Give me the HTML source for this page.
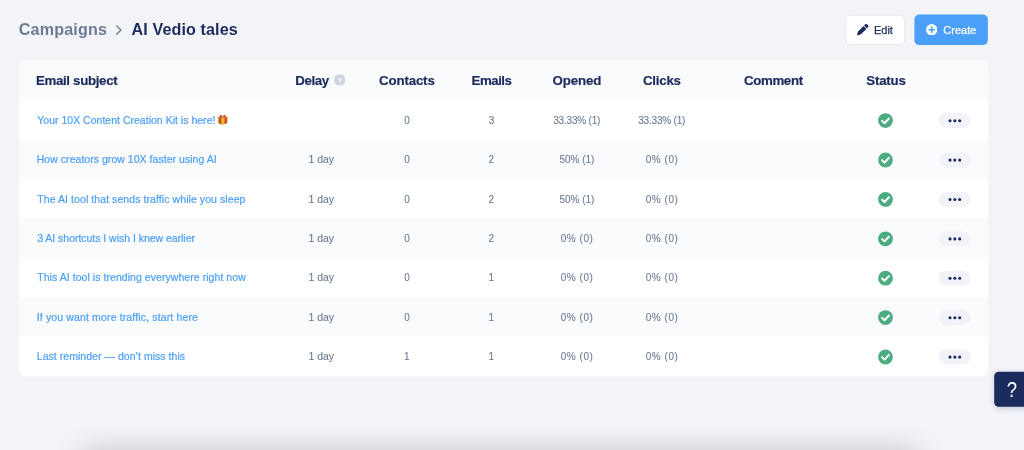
<!DOCTYPE html>
<html lang="en">
<head>
<meta charset="utf-8">
<title>Campaigns - AI Vedio tales</title>
<style>
*{box-sizing:border-box;margin:0;padding:0}
html,body{width:1024px;height:450px;overflow:hidden;background:#f2f4f8;font-family:"Liberation Sans",Arial,sans-serif}
body{position:relative}
.t{position:absolute;white-space:nowrap;line-height:normal;display:block}
.ck{position:absolute;display:block}
.shadow{position:absolute;left:82px;top:451px;width:836px;height:60px;border-radius:8px;box-shadow:0 0 30px 0 rgba(0,0,0,.20)}
</style>
</head>
<body>

<svg class="ck" style="left:0;top:0" width="1024" height="450" viewBox="0 0 1024 450"><defs><clipPath id="cc"><rect x="19" y="59.8" width="969.2" height="316.7" rx="7" ry="7"/></clipPath><filter id="hs" x="-30%" y="-30%" width="160%" height="170%"><feGaussianBlur stdDeviation="3"/></filter></defs><g clip-path="url(#cc)"><rect x="19" y="59.8" width="970" height="317" fill="#ffffff"/><rect x="19" y="59.8" width="970" height="40.8" fill="#fafbfc"/><rect x="19" y="140.0" width="970" height="39.4" fill="#fafbfd"/><rect x="19" y="218.8" width="970" height="39.4" fill="#fafbfd"/><rect x="19" y="297.6" width="970" height="39.4" fill="#fafbfd"/></g><rect x="845.9" y="15.100" width="58.8" height="29.500" rx="5" fill="#ffffff" stroke="#e4e7ee" stroke-width="1"/><rect x="914.4" y="14.600" width="73.5" height="30.500" rx="5" fill="#4a9ff8"/><rect x="939.1" y="113.1" width="31" height="14.900" rx="6.500" fill="#f1f3f8"/><g transform="translate(878.00 113.10)"><circle cx="7.5" cy="7.5" r="7.4" fill="#4cac80"/><path d="M4.1 7.800 L6.500 10.100 L10.900 5.400" fill="none" stroke="#fff" stroke-width="2" stroke-linecap="round" stroke-linejoin="round"/></g><circle cx="950.0" cy="120.7" r="1.550" fill="#1c2b5e"/><circle cx="954.85" cy="120.7" r="1.550" fill="#1c2b5e"/><circle cx="959.7" cy="120.7" r="1.550" fill="#1c2b5e"/><rect x="939.1" y="152.5" width="31" height="14.900" rx="6.500" fill="#f1f3f8"/><g transform="translate(878.00 152.50)"><circle cx="7.5" cy="7.5" r="7.4" fill="#4cac80"/><path d="M4.1 7.800 L6.500 10.100 L10.900 5.400" fill="none" stroke="#fff" stroke-width="2" stroke-linecap="round" stroke-linejoin="round"/></g><circle cx="950.0" cy="160.1" r="1.550" fill="#1c2b5e"/><circle cx="954.85" cy="160.1" r="1.550" fill="#1c2b5e"/><circle cx="959.7" cy="160.1" r="1.550" fill="#1c2b5e"/><rect x="939.1" y="191.9" width="31" height="14.900" rx="6.500" fill="#f1f3f8"/><g transform="translate(878.00 191.90)"><circle cx="7.5" cy="7.5" r="7.4" fill="#4cac80"/><path d="M4.1 7.800 L6.500 10.100 L10.900 5.400" fill="none" stroke="#fff" stroke-width="2" stroke-linecap="round" stroke-linejoin="round"/></g><circle cx="950.0" cy="199.5" r="1.550" fill="#1c2b5e"/><circle cx="954.85" cy="199.5" r="1.550" fill="#1c2b5e"/><circle cx="959.7" cy="199.5" r="1.550" fill="#1c2b5e"/><rect x="939.1" y="231.3" width="31" height="14.900" rx="6.500" fill="#f1f3f8"/><g transform="translate(878.00 231.30)"><circle cx="7.5" cy="7.5" r="7.4" fill="#4cac80"/><path d="M4.1 7.800 L6.500 10.100 L10.900 5.400" fill="none" stroke="#fff" stroke-width="2" stroke-linecap="round" stroke-linejoin="round"/></g><circle cx="950.0" cy="238.9" r="1.550" fill="#1c2b5e"/><circle cx="954.85" cy="238.9" r="1.550" fill="#1c2b5e"/><circle cx="959.7" cy="238.9" r="1.550" fill="#1c2b5e"/><rect x="939.1" y="270.7" width="31" height="14.900" rx="6.500" fill="#f1f3f8"/><g transform="translate(878.00 270.70)"><circle cx="7.5" cy="7.5" r="7.4" fill="#4cac80"/><path d="M4.1 7.800 L6.500 10.100 L10.900 5.400" fill="none" stroke="#fff" stroke-width="2" stroke-linecap="round" stroke-linejoin="round"/></g><circle cx="950.0" cy="278.3" r="1.550" fill="#1c2b5e"/><circle cx="954.85" cy="278.3" r="1.550" fill="#1c2b5e"/><circle cx="959.7" cy="278.3" r="1.550" fill="#1c2b5e"/><rect x="939.1" y="310.1" width="31" height="14.900" rx="6.500" fill="#f1f3f8"/><g transform="translate(878.00 310.10)"><circle cx="7.5" cy="7.5" r="7.4" fill="#4cac80"/><path d="M4.1 7.800 L6.500 10.100 L10.900 5.400" fill="none" stroke="#fff" stroke-width="2" stroke-linecap="round" stroke-linejoin="round"/></g><circle cx="950.0" cy="317.7" r="1.550" fill="#1c2b5e"/><circle cx="954.85" cy="317.7" r="1.550" fill="#1c2b5e"/><circle cx="959.7" cy="317.7" r="1.550" fill="#1c2b5e"/><rect x="939.1" y="349.5" width="31" height="14.900" rx="6.500" fill="#f1f3f8"/><g transform="translate(878.00 349.50)"><circle cx="7.5" cy="7.5" r="7.4" fill="#4cac80"/><path d="M4.1 7.800 L6.500 10.100 L10.900 5.400" fill="none" stroke="#fff" stroke-width="2" stroke-linecap="round" stroke-linejoin="round"/></g><circle cx="950.0" cy="357.1" r="1.550" fill="#1c2b5e"/><circle cx="954.85" cy="357.1" r="1.550" fill="#1c2b5e"/><circle cx="959.7" cy="357.1" r="1.550" fill="#1c2b5e"/><rect x="995" y="374" width="40" height="34" rx="4" fill="#1c2b5e" opacity="0.250" filter="url(#hs)"/><rect x="994.2" y="371.8" width="40" height="35" rx="4.5" fill="#1c2b5e"/><g transform="translate(333.95 74.2)"><circle cx="5.7" cy="5.7" r="5.7" fill="#cdd5e1"/><text x="5.7" y="8.5" font-size="7.8" font-weight="bold" text-anchor="middle" fill="#fff" font-family="Liberation Sans, sans-serif">?</text></g><path d="M116.6 25.9 L121.0 30.05 L116.6 34.2" fill="none" stroke="#6b7c93" stroke-width="1.3" stroke-linecap="round" stroke-linejoin="round"/></svg>
<span class="t" id="bc1" style="left:18.75px;top:20.00px;font-size:16.1px;color:#6b7c93;letter-spacing:0.181px;font-weight:bold">Campaigns</span>
<span class="t" id="bc2" style="left:131.55px;top:20.00px;font-size:16.1px;color:#1c2b5e;letter-spacing:0.115px;font-weight:bold">AI Vedio tales</span>
<svg class="ck" style="left:857.200px;top:24.300px" width="11.400" height="11.400" viewBox="0 0 512 512"><path fill="#1c2b5e" d="M362.700 19.300L314.300 67.700 444.300 197.700l48.400-48.400c25-25 25-65.500 0-90.500L453.300 19.300c-25-25-65.500-25-90.500 0zm-71 71L58.600 323.500c-10.400 10.400-18 23.300-22.200 37.400L1 481.200C-1.500 489.700 .8 498.800 7 505s15.300 8.500 23.700 6.100l120.300-35.400c14.100-4.200 27-11.800 37.400-22.200L421.700 220.300 291.700 90.300z"/></svg>
<span class="t" id="bedit" style="left:874.10px;top:24.00px;font-size:11px;color:#1c2b5e;letter-spacing:-0.083px;-webkit-text-stroke:0.25px #1c2b5e">Edit</span>
<svg class="ck" style="left:926px;top:24px" width="11.400" height="11.400" viewBox="0 0 12 12"><circle cx="6" cy="6" r="6" fill="#fff"/><path d="M6 3.300V8.700M3.300 6H8.700" stroke="#4a9ff8" stroke-width="1.700" stroke-linecap="round"/></svg>
<span class="t" id="bcreate" style="left:943.35px;top:24.00px;font-size:11px;color:#ffffff;letter-spacing:0.010px;-webkit-text-stroke:0.25px #ffffff">Create</span>
<span class="t" id="h0" style="left:35.90px;top:73.00px;font-size:13.3px;color:#1c2b5e;letter-spacing:-0.329px;font-weight:bold;-webkit-text-stroke:0.18px #1c2b5e">Email subject</span>
<span class="t" id="h1" style="left:295.25px;top:73.00px;font-size:13.3px;color:#1c2b5e;letter-spacing:-0.400px;font-weight:bold;-webkit-text-stroke:0.18px #1c2b5e">Delay</span>
<span class="t" id="h2" style="left:379.00px;top:73.00px;font-size:13.3px;color:#1c2b5e;letter-spacing:-0.157px;font-weight:bold;-webkit-text-stroke:0.18px #1c2b5e">Contacts</span>
<span class="t" id="h3" style="left:471.60px;top:73.00px;font-size:13.3px;color:#1c2b5e;letter-spacing:-0.510px;font-weight:bold;-webkit-text-stroke:0.18px #1c2b5e">Emails</span>
<span class="t" id="h4" style="left:552.50px;top:73.00px;font-size:13.3px;color:#1c2b5e;letter-spacing:-0.150px;font-weight:bold;-webkit-text-stroke:0.18px #1c2b5e">Opened</span>
<span class="t" id="h5" style="left:643.00px;top:73.00px;font-size:13.3px;color:#1c2b5e;letter-spacing:-0.250px;font-weight:bold;-webkit-text-stroke:0.18px #1c2b5e">Clicks</span>
<span class="t" id="h6" style="left:744.00px;top:73.00px;font-size:13.3px;color:#1c2b5e;letter-spacing:-0.375px;font-weight:bold;-webkit-text-stroke:0.18px #1c2b5e">Comment</span>
<span class="t" id="h7" style="left:866.25px;top:73.00px;font-size:13.3px;color:#1c2b5e;letter-spacing:-0.200px;font-weight:bold;-webkit-text-stroke:0.18px #1c2b5e">Status</span>
<span class="t" id="r0s" style="left:37.25px;top:114.00px;font-size:10.5px;color:#4a9ff5;letter-spacing:0.014px;-webkit-text-stroke:0.2px #4a9ff5">Your 10X Content Creation Kit is here!</span>
<svg class="ck" style="left:217px;top:114px" width="12" height="12" viewBox="0 0 12 12"><g transform="translate(0.5 0.1)"><path d="M0.4 3 L10 3 L10 8.8 L5.2 10.7 L0.4 8.8 Z" fill="#d8a42c"/><path d="M1.6 3 L4 3 L4 10.2 L1.6 9.3 Z" fill="#d3402b"/><path d="M6.9 3 L9.1 3 L9.1 9.2 L6.9 10 Z" fill="#c93a27"/><path d="M4 4.2 L6.9 4.2 L6.9 10 L5.2 10.7 L4 10.2 Z" fill="#ecbd34"/><rect x="0" y="2.7" width="10.4" height="1.6" rx="0.3" fill="#dcaa30"/><rect x="1.6" y="2.7" width="2.4" height="1.6" fill="#d8452e"/><rect x="6.9" y="2.7" width="2.2" height="1.6" fill="#d8452e"/><path d="M5.2 3.1 C4.2 -0.300 1.500 0.300 2.500 2.900 Z M5.200 3.100 C6.200 -0.300 8.900 0.300 7.900 2.900 Z" fill="#e24b3b"/></g></svg>
<span class="t" id="r0c" style="left:404.23px;top:115.00px;font-size:10px;color:#6b7c93;letter-spacing:0.000px;-webkit-text-stroke:0.1px #6b7c93">0</span>
<span class="t" id="r0e" style="left:488.73px;top:115.00px;font-size:10px;color:#6b7c93;letter-spacing:0.000px;-webkit-text-stroke:0.1px #6b7c93">3</span>
<span class="t" id="r0o" style="left:553.22px;top:115.00px;font-size:10px;color:#6b7c93;letter-spacing:-0.194px;-webkit-text-stroke:0.1px #6b7c93">33.33% (1)</span>
<span class="t" id="r0k" style="left:638.22px;top:115.00px;font-size:10px;color:#6b7c93;letter-spacing:-0.194px;-webkit-text-stroke:0.1px #6b7c93">33.33% (1)</span>
<span class="t" id="r1s" style="left:36.75px;top:153.00px;font-size:10.5px;color:#4a9ff5;letter-spacing:0.036px;-webkit-text-stroke:0.2px #4a9ff5">How creators grow 10X faster using AI</span>
<span class="t" id="r1d" style="left:308.60px;top:153.00px;font-size:10.5px;color:#6b7c93;letter-spacing:-0.050px;-webkit-text-stroke:0.1px #6b7c93">1 day</span>
<span class="t" id="r1c" style="left:404.23px;top:154.00px;font-size:10px;color:#6b7c93;letter-spacing:0.000px;-webkit-text-stroke:0.1px #6b7c93">0</span>
<span class="t" id="r1e" style="left:488.60px;top:154.00px;font-size:10px;color:#6b7c93;letter-spacing:0.000px;-webkit-text-stroke:0.1px #6b7c93">2</span>
<span class="t" id="r1o" style="left:559.40px;top:154.00px;font-size:10px;color:#6b7c93;letter-spacing:-0.008px;-webkit-text-stroke:0.1px #6b7c93">50% (1)</span>
<span class="t" id="r1k" style="left:645.72px;top:154.00px;font-size:10px;color:#6b7c93;letter-spacing:0.550px;-webkit-text-stroke:0.1px #6b7c93">0% (0)</span>
<span class="t" id="r2s" style="left:37.25px;top:193.00px;font-size:10.5px;color:#4a9ff5;letter-spacing:0.078px;-webkit-text-stroke:0.2px #4a9ff5">The AI tool that sends traffic while you sleep</span>
<span class="t" id="r2d" style="left:308.60px;top:193.00px;font-size:10.5px;color:#6b7c93;letter-spacing:-0.050px;-webkit-text-stroke:0.1px #6b7c93">1 day</span>
<span class="t" id="r2c" style="left:404.23px;top:194.00px;font-size:10px;color:#6b7c93;letter-spacing:0.000px;-webkit-text-stroke:0.1px #6b7c93">0</span>
<span class="t" id="r2e" style="left:488.60px;top:194.00px;font-size:10px;color:#6b7c93;letter-spacing:0.000px;-webkit-text-stroke:0.1px #6b7c93">2</span>
<span class="t" id="r2o" style="left:559.40px;top:194.00px;font-size:10px;color:#6b7c93;letter-spacing:-0.008px;-webkit-text-stroke:0.1px #6b7c93">50% (1)</span>
<span class="t" id="r2k" style="left:645.72px;top:194.00px;font-size:10px;color:#6b7c93;letter-spacing:0.550px;-webkit-text-stroke:0.1px #6b7c93">0% (0)</span>
<span class="t" id="r3s" style="left:37.25px;top:232.00px;font-size:10.5px;color:#4a9ff5;letter-spacing:-0.029px;-webkit-text-stroke:0.2px #4a9ff5">3 AI shortcuts I wish I knew earlier</span>
<span class="t" id="r3d" style="left:308.60px;top:232.00px;font-size:10.5px;color:#6b7c93;letter-spacing:-0.050px;-webkit-text-stroke:0.1px #6b7c93">1 day</span>
<span class="t" id="r3c" style="left:404.23px;top:233.00px;font-size:10px;color:#6b7c93;letter-spacing:0.000px;-webkit-text-stroke:0.1px #6b7c93">0</span>
<span class="t" id="r3e" style="left:488.60px;top:233.00px;font-size:10px;color:#6b7c93;letter-spacing:0.000px;-webkit-text-stroke:0.1px #6b7c93">2</span>
<span class="t" id="r3o" style="left:560.72px;top:233.00px;font-size:10px;color:#6b7c93;letter-spacing:0.550px;-webkit-text-stroke:0.1px #6b7c93">0% (0)</span>
<span class="t" id="r3k" style="left:645.72px;top:233.00px;font-size:10px;color:#6b7c93;letter-spacing:0.550px;-webkit-text-stroke:0.1px #6b7c93">0% (0)</span>
<span class="t" id="r4s" style="left:37.25px;top:271.00px;font-size:10.5px;color:#4a9ff5;letter-spacing:0.056px;-webkit-text-stroke:0.2px #4a9ff5">This AI tool is trending everywhere right now</span>
<span class="t" id="r4d" style="left:308.60px;top:271.00px;font-size:10.5px;color:#6b7c93;letter-spacing:-0.050px;-webkit-text-stroke:0.1px #6b7c93">1 day</span>
<span class="t" id="r4c" style="left:404.23px;top:272.00px;font-size:10px;color:#6b7c93;letter-spacing:0.000px;-webkit-text-stroke:0.1px #6b7c93">0</span>
<span class="t" id="r4e" style="left:488.50px;top:272.00px;font-size:10px;color:#6b7c93;letter-spacing:0.000px;-webkit-text-stroke:0.1px #6b7c93">1</span>
<span class="t" id="r4o" style="left:560.72px;top:272.00px;font-size:10px;color:#6b7c93;letter-spacing:0.550px;-webkit-text-stroke:0.1px #6b7c93">0% (0)</span>
<span class="t" id="r4k" style="left:645.72px;top:272.00px;font-size:10px;color:#6b7c93;letter-spacing:0.550px;-webkit-text-stroke:0.1px #6b7c93">0% (0)</span>
<span class="t" id="r5s" style="left:36.75px;top:311.00px;font-size:10.5px;color:#4a9ff5;letter-spacing:0.140px;-webkit-text-stroke:0.2px #4a9ff5">If you want more traffic, start here</span>
<span class="t" id="r5d" style="left:308.60px;top:311.00px;font-size:10.5px;color:#6b7c93;letter-spacing:-0.050px;-webkit-text-stroke:0.1px #6b7c93">1 day</span>
<span class="t" id="r5c" style="left:404.23px;top:312.00px;font-size:10px;color:#6b7c93;letter-spacing:0.000px;-webkit-text-stroke:0.1px #6b7c93">0</span>
<span class="t" id="r5e" style="left:488.50px;top:312.00px;font-size:10px;color:#6b7c93;letter-spacing:0.000px;-webkit-text-stroke:0.1px #6b7c93">1</span>
<span class="t" id="r5o" style="left:560.72px;top:312.00px;font-size:10px;color:#6b7c93;letter-spacing:0.550px;-webkit-text-stroke:0.1px #6b7c93">0% (0)</span>
<span class="t" id="r5k" style="left:645.72px;top:312.00px;font-size:10px;color:#6b7c93;letter-spacing:0.550px;-webkit-text-stroke:0.1px #6b7c93">0% (0)</span>
<span class="t" id="r6s" style="left:36.75px;top:350.00px;font-size:10.5px;color:#4a9ff5;letter-spacing:0.043px;-webkit-text-stroke:0.2px #4a9ff5">Last reminder — don’t miss this</span>
<span class="t" id="r6d" style="left:308.60px;top:350.00px;font-size:10.5px;color:#6b7c93;letter-spacing:-0.050px;-webkit-text-stroke:0.1px #6b7c93">1 day</span>
<span class="t" id="r6c" style="left:404.00px;top:351.00px;font-size:10px;color:#6b7c93;letter-spacing:0.000px;-webkit-text-stroke:0.1px #6b7c93">1</span>
<span class="t" id="r6e" style="left:488.50px;top:351.00px;font-size:10px;color:#6b7c93;letter-spacing:0.000px;-webkit-text-stroke:0.1px #6b7c93">1</span>
<span class="t" id="r6o" style="left:560.72px;top:351.00px;font-size:10px;color:#6b7c93;letter-spacing:0.550px;-webkit-text-stroke:0.1px #6b7c93">0% (0)</span>
<span class="t" id="r6k" style="left:645.72px;top:351.00px;font-size:10px;color:#6b7c93;letter-spacing:0.550px;-webkit-text-stroke:0.1px #6b7c93">0% (0)</span>
<span class="t" id="helpq" style="left:1006.1px;top:378px;font-size:21.5px;color:#fff;transform:scaleX(.86);transform-origin:50% 50%">?</span>
<div class="shadow"></div>
</body>
</html>
